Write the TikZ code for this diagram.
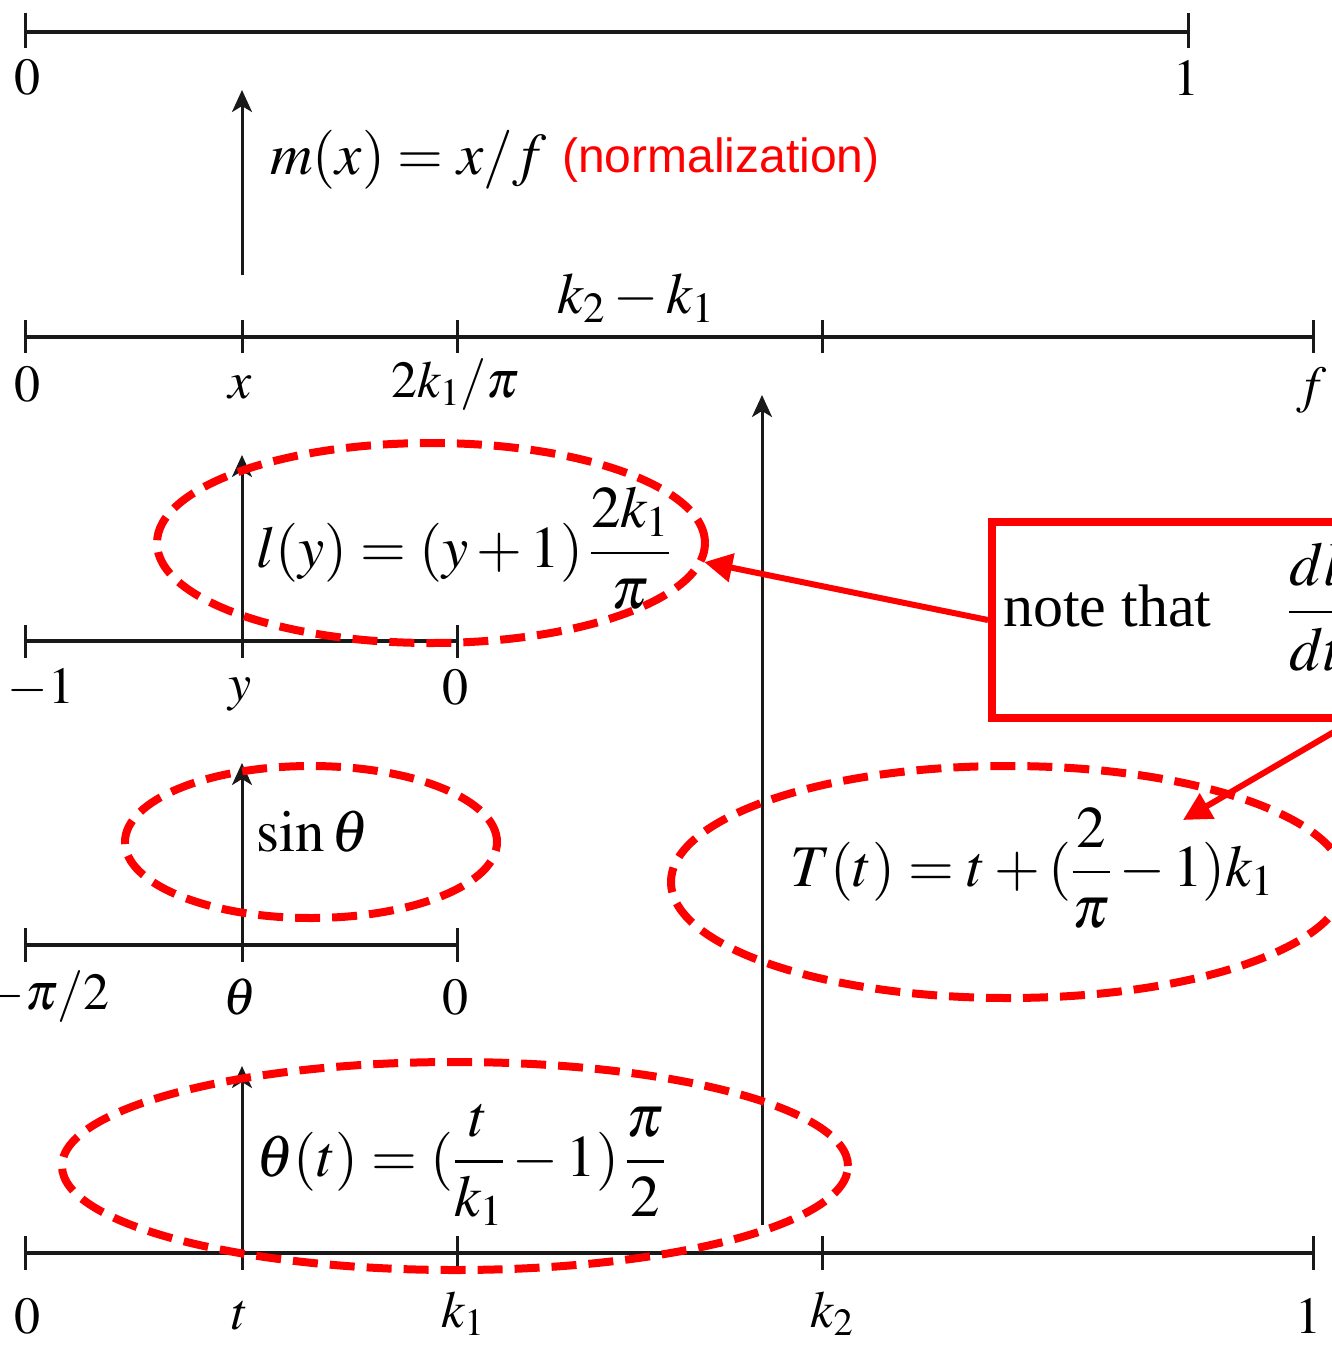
\documentclass[tikz,border=0pt]{standalone}
\usepackage{amsmath}
\usepackage{mathptmx}
\usepackage{fontspec}
\setmainfont{Liberation Serif}
\newfontfamily\arialfont{Liberation Sans}
\usetikzlibrary{arrows.meta,shapes.geometric}
\begin{document}
\begin{tikzpicture}[x=1pt,y=-1pt,
  axis/.style={line width=4pt, black!90},
  tick/.style={line width=3pt, black!90},
  upar/.style={line width=3pt, black!90, -{Stealth[length=22pt,width=20pt,inset=6pt]}},
  oval/.style={ellipse, draw=red, line width=8pt, dash pattern=on 25pt off 12pt, inner sep=0pt},
  rar/.style={draw=red, line width=6pt, -{Triangle[length=28pt,width=28pt]}},
  lab/.style={inner sep=0pt, font=\fontsize{52}{54}\selectfont},
  eq/.style={inner sep=0pt, font=\fontsize{59}{62}\selectfont},
]
\clip (0,0) rectangle (1332,1346);
\fill[white] (0,0) rectangle (1332,1346);

% axis 1 (normalized)
\coordinate (a1L) at (25,32); \coordinate (a1R) at (1188,32);
\draw[axis] (a1L) -- (a1R);
\foreach \x in {25,1188} \draw[tick] (\x,13) -- (\x,48);
\node[lab] (a1z) at (27,78) {$0$};
\node[lab] (a1o) at (1186,78) {$1$};

% axis 2 (0..f)
\coordinate (a2L) at (25,337); \coordinate (a2R) at (1313,337);
\draw[axis] (a2L) -- (a2R);
\foreach \x in {25,242,457,822,1313} \draw[tick] (\x,320) -- (\x,353);
\node[lab] (a2z) at (27,385) {$0$};
\node[lab] (a2x) at (240,387) {$x$};
\node[lab] (a2k) at (455,385) {$2k_1/\pi$};
\node[lab] (a2f) at (1312,390) {$f$};
\node[lab, font=\fontsize{58}{60}\selectfont] (a2d) at (636,298) {$k_2-k_1$};

% m(x) arrow
\coordinate (ms) at (242,275); \coordinate (me) at (242,90);
\draw[upar] (ms) -- (me);
\node[eq, anchor=west] (meq) at (270,160) {$m(x)=x/f$};
\node[anchor=west, inner sep=0pt, text=red, font=\arialfont\fontsize{48}{50}\selectfont] (norm) at (562,160) {(normalization)};

% big arrow T
\coordinate (Ts) at (762,1225); \coordinate (Te) at (762,395);
\draw[upar] (Ts) -- (Te);

% axis 3 (-1..0)
\coordinate (a3L) at (25,641); \coordinate (a3R) at (457,641);
\draw[axis] (a3L) -- (a3R);
\foreach \x in {25,242,457} \draw[tick] (\x,625) -- (\x,658);
\node[lab] (a3m) at (41,688) {$-1$};
\node[lab] (a3y) at (240,694) {$y$};
\node[lab] (a3z) at (455,688) {$0$};
\coordinate (ys) at (242,641); \coordinate (ye) at (242,455);
\draw[upar] (ys) -- (ye);
\node[eq, anchor=west] (leq) at (256,548) {$l(y)=(y+1)\,\dfrac{2k_1}{\pi}$};

% axis 4 (-pi/2..0)
\coordinate (a4L) at (25,945); \coordinate (a4R) at (457,945);
\draw[axis] (a4L) -- (a4R);
\foreach \x in {25,242,457} \draw[tick] (\x,928) -- (\x,962);
\node[lab, anchor=east] (a4m) at (110,997) {$-\pi/2$};
\node[lab] (a4t) at (240,997) {$\theta$};
\node[lab] (a4z) at (455,997) {$0$};
\coordinate (ths) at (242,945); \coordinate (the) at (242,763);
\draw[upar] (ths) -- (the);
\node[eq, anchor=west] (seq) at (256,832) {$\sin\theta$};

% axis 5 (0..1, t)
\coordinate (a5L) at (25,1253); \coordinate (a5R) at (1313,1253);
\draw[axis] (a5L) -- (a5R);
\foreach \x in {25,242,457,822,1313} \draw[tick] (\x,1236) -- (\x,1270);
\node[lab] (a5z) at (27,1316) {$0$};
\node[lab] (a5t) at (240,1316) {$t$};
\node[lab] (a5k) at (463,1314) {$k_1$};
\node[lab] (a5l) at (832,1314) {$k_2$};
\node[lab] (a5o) at (1308,1316) {$1$};
\coordinate (tts) at (242,1253); \coordinate (tte) at (242,1066);
\draw[upar] (tts) -- (tte);
\node[eq, anchor=west] (teq) at (256,1165) {$\theta(t)=(\dfrac{t}{k_1}-1)\,\dfrac{\pi}{2}$};

% T(t)
\node[eq, anchor=west] (Teq) at (790,868) {$T(t)=t+(\dfrac{2}{\pi}-1)k_1$};

% ovals
\node[oval, minimum width=548pt, minimum height=200pt] (e1) at (431,543) {};
\node[oval, minimum width=372pt, minimum height=152pt] (e2) at (311,842) {};
\node[oval, minimum width=786pt, minimum height=208pt] (e3) at (455,1166) {};
\node[oval, minimum width=674pt, minimum height=232pt] (e4) at (1008,882) {};

% note box
\node[draw=red, line width=8pt, anchor=north west, minimum width=355pt, minimum height=196pt, inner sep=0pt] (note) at (988,518) {};
\node[anchor=west, inner sep=0pt, font=\fontsize{60}{62}\selectfont] (nt) at (1003,606) {note that};
\node[anchor=west, inner sep=0pt, font=\fontsize{62}{64}\selectfont] (nf) at (1288,607) {$\dfrac{dl}{dt}$};

% red arrows
\coordinate (tipT) at (1183,820);
\draw[rar] (note.west) -- (e1.-4);
\draw[rar] (note.south east) -- (tipT);
\end{tikzpicture}
\end{document}
